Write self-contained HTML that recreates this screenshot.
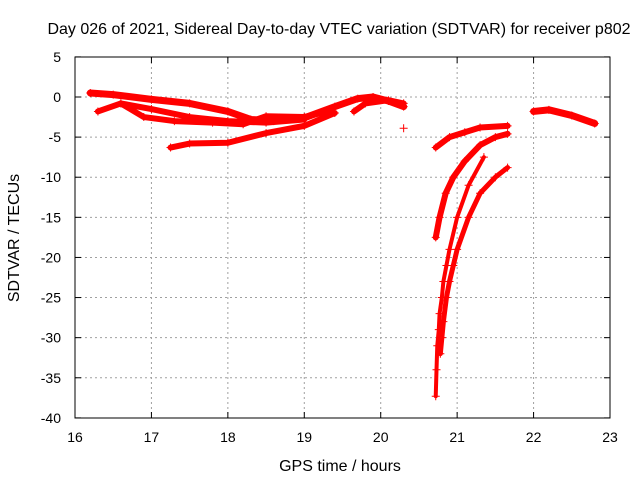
<!DOCTYPE html>
<html><head><meta charset="utf-8"><style>
body{margin:0;background:#fff}
text{font-family:"Liberation Sans",sans-serif;font-size:14px;fill:#000}
.big{font-size:16px}
</style></head><body>
<svg id="c" width="640" height="480">
<rect width="640" height="480" fill="#fff"/>
<text class="big" x="339" y="34" text-anchor="middle">Day 026 of 2021, Sidereal Day-to-day VTEC variation (SDTVAR) for receiver p802</text>
<text class="big" x="340" y="471" text-anchor="middle">GPS time / hours</text>
<text class="big" transform="translate(19,238) rotate(-90)" text-anchor="middle">SDTVAR / TECUs</text>
<g id="grid"></g><g id="marks"></g>
<rect x="75" y="57" width="535" height="361" fill="none" stroke="#000"/>
</svg>
<script>
const xTicks=[16,17,18,19,20,21,22,23];
const yTicks=[5,0,-5,-10,-15,-20,-25,-30,-35,-40];
const trace1=[[16.2,0.5],[16.5,0.3],[17,-0.3],[17.5,-0.8],[18,-1.8],[18.3,-2.8],[18.6,-3],[19,-2.6],[19.4,-1.2],[19.7,-0.2],[19.9,0],[20.1,-0.5],[20.3,-1.2]];
const trace2=[[16.3,-1.8],[16.6,-0.8],[17,-1.5],[17.5,-2.5],[18,-3],[18.5,-3.2],[19,-2.8]];
const trace3=[[16.6,-0.8],[16.9,-2.5],[17.3,-3],[17.8,-3.2],[18.2,-3.4],[18.5,-2.4],[19,-2.5],[19.3,-1.8]];
const trace4=[[17.25,-6.3],[17.5,-5.8],[18,-5.7],[18.5,-4.5],[19,-3.6],[19.4,-2]];
const trace5=[[19.65,-1.8],[19.8,-0.8],[20.1,-0.4],[20.3,-0.8]];
const trace6=[[20.3,-3.9]];
const trace7=[[20.72,-6.3],[20.9,-5],[21.1,-4.4],[21.3,-3.8],[21.66,-3.6]];
const trace8=[[20.72,-17.5],[20.77,-15],[20.85,-12],[20.95,-10],[21.1,-8],[21.3,-6],[21.5,-5],[21.66,-4.6]];
const trace9=[[20.72,-37.3],[20.73,-34],[20.74,-31],[20.76,-29],[20.77,-27],[20.8,-25],[20.82,-23],[20.86,-21],[20.9,-19],[21.0,-15],[21.15,-11],[21.35,-7.5]];
const trace10=[[20.78,-32],[20.8,-30],[20.82,-28],[20.86,-25],[20.9,-23],[20.95,-21],[21.0,-19],[21.15,-15],[21.3,-12],[21.5,-10],[21.66,-8.8]];
const trace11=[[22.0,-1.8],[22.2,-1.6],[22.5,-2.3],[22.8,-3.3]];
const traces=[trace1,trace2,trace3,trace4,trace5,trace6,trace7,trace8,trace9,trace10,trace11];
const widths=[7,6,6,6,6,0,6,6,4,5,7];
const X=v=>75+(v-16)*535/7, Y=v=>97-v*361/45;
const NS="http://www.w3.org/2000/svg";
const g=document.getElementById('grid'), m=document.getElementById('marks');
function mk(t,a,p){const e=document.createElementNS(NS,t);for(const k in a)e.setAttribute(k,a[k]);p.appendChild(e);return e;}
xTicks.forEach(t=>{const x=X(t);
 if(t>16&&t<23){const l=mk('line',{x1:x,y1:57,x2:x,y2:418,stroke:'#a0a0a0','stroke-dasharray':'2,3'},g);
 
 }
 mk('line',{x1:x,y1:418,x2:x,y2:412,stroke:'#000'},g);mk('line',{x1:x,y1:57,x2:x,y2:63,stroke:'#000'},g);
 const tx=mk('text',{x:x,y:442,'text-anchor':'middle'},g);tx.textContent=t;
 
 });
yTicks.forEach(t=>{const y=Y(t);
 if(t<5&&t>-40){const l=mk('line',{x1:75,y1:y,x2:610,y2:y,stroke:'#a0a0a0','stroke-dasharray':'2,3'},g);
 
 }
 mk('line',{x1:75,y1:y,x2:81,y2:y,stroke:'#000'},g);mk('line',{x1:610,y1:y,x2:604,y2:y,stroke:'#000'},g);
 const tx=mk('text',{x:61,y:y+5,'text-anchor':'end'},g);tx.textContent=t;
 
 });
traces.forEach((tr,i)=>{
 if(tr.length>1&&widths[i]>0){const pl=mk('polyline',{points:tr.map(p=>X(p[0])+','+Y(p[1])).join(' '),fill:'none',stroke:'#f00','stroke-width':widths[i],'stroke-linejoin':'round','stroke-linecap':'round'},m);
 
 }
 tr.forEach(p=>{const x=X(p[0]),y=Y(p[1]);
  const pt=mk('path',{d:`M${x-4},${y}H${x+4}M${x},${y-4}V${y+4}`,stroke:'#f00','stroke-width':1},m);
  
  });
});
</script>
</body></html>
